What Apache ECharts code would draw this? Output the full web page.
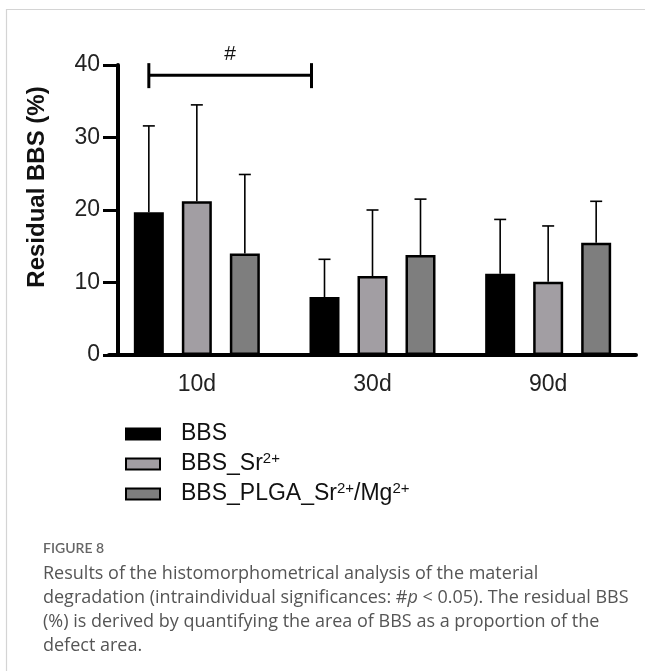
<!DOCTYPE html>
<html>
<head>
<meta charset="utf-8">
<script src="https://cdn.jsdelivr.net/npm/echarts@6/dist/echarts.min.js"></script>
<style>
  html, body { margin: 0; padding: 0; background: #fff; }
  #chart { width: 645px; height: 671px; }
</style>
</head>
<body>
<div id="chart"></div>
<script>
// data
var days = ['10d', '30d', '90d'];
var groupNames = ['BBS', 'BBS_Sr2+', 'BBS_PLGA_Sr2+/Mg2+'];
var bbsMean = [19.7, 8.0, 11.2];
var srMean = [21.2, 10.9, 10.1];
var plgaMean = [14.0, 13.8, 15.5];
var bbsUpper = [31.6, 13.2, 18.7];
var srUpper = [34.5, 20.0, 17.8];
var plgaUpper = [24.9, 21.5, 21.2];
var yTicks = [0, 10, 20, 30, 40];
var sigLevel = 38.6;

var fillColors = ['#000000', '#a29ea3', '#7e7e7e'];
var barW = 30, pitch = 48;
var fontAxis = '"Liberation Sans", Arial, sans-serif';

var means = [bbsMean, srMean, plgaMean];
var uppers = [bbsUpper, srUpper, plgaUpper];

var errData = [];
for (var s = 0; s < 3; s++) {
    for (var i = 0; i < days.length; i++) {
        errData.push([i, means[s][i], uppers[s][i], s]);
    }
}

var series = [];
for (var k = 0; k < 3; k++) {
    series.push({
        name: groupNames[k],
        type: 'bar',
        barWidth: barW,
        barGap: ((pitch - barW) / barW * 100) + '%',
        data: means[k],
        itemStyle: { color: fillColors[k], borderColor: '#000', borderWidth: 2.5 }
    });
}

// error bars (upper only)
series.push({
    type: 'custom',
    data: errData,
    encode: { x: 0, y: 2 },
    z: 5,
    renderItem: function (params, api) {
        var pm = api.coord([api.value(0), api.value(1)]);
        var pu = api.coord([api.value(0), api.value(2)]);
        var x = pm[0] + (api.value(3) - 1) * pitch;
        var st = { stroke: '#000', lineWidth: 1.6 };
        return {
            type: 'group',
            children: [
                { type: 'line', shape: { x1: x, y1: pm[1], x2: x, y2: pu[1] }, style: st },
                { type: 'line', shape: { x1: x - 6, y1: pu[1], x2: x + 6, y2: pu[1] }, style: st }
            ]
        };
    }
});

// significance bracket 10d vs 30d
series.push({
    type: 'custom',
    data: [[0, sigLevel]],
    z: 5,
    renderItem: function (params, api) {
        var a = api.coord([0, api.value(1)]);
        var b = api.coord([1, api.value(1)]);
        var x1 = a[0] - pitch, x2 = b[0] - 61, y = a[1];
        var st = { stroke: '#000', lineWidth: 3 };
        return {
            type: 'group',
            children: [
                { type: 'line', shape: { x1: x1, y1: y, x2: x2, y2: y }, style: st },
                { type: 'line', shape: { x1: x1, y1: y - 12, x2: x1, y2: y + 13 }, style: st },
                { type: 'line', shape: { x1: x2, y1: y - 12, x2: x2, y2: y + 13 }, style: st },
                { type: 'text', style: { text: '#', x: (x1 + x2) / 2, y: y - 10, align: 'center', verticalAlign: 'bottom', fontSize: 21, fontFamily: fontAxis, fill: '#111' } }
            ]
        };
    }
});

var legendRich = {
    sup: { fontSize: 15, fontFamily: fontAxis, color: '#111', verticalAlign: 'top', padding: [0, 0, 16, 0] }
};

var chart = echarts.init(document.getElementById('chart'));
chart.setOption({
    animation: false,
    backgroundColor: '#fff',
    grid: { left: 109, right: 9, top: 65, bottom: 316 },
    xAxis: {
        type: 'category',
        data: days,
        axisLine: { lineStyle: { color: '#000', width: 4 } },
        axisTick: { alignWithLabel: true, length: 13, lineStyle: { color: '#000', width: 4 } },
        axisLabel: { fontSize: 23, fontFamily: fontAxis, color: '#222', margin: 18 }
    },
    yAxis: {
        type: 'value',
        min: yTicks[0],
        max: yTicks[yTicks.length - 1],
        interval: yTicks[1] - yTicks[0],
        offset: -9,
        splitLine: { show: false },
        axisLine: { show: true, lineStyle: { color: '#000', width: 4 } },
        axisTick: { show: true, length: 15, lineStyle: { color: '#000', width: 3 } },
        axisLabel: { fontSize: 23, fontFamily: fontAxis, color: '#222', margin: 18 }
    },
    legend: {
        data: groupNames,
        orient: 'vertical',
        left: 120,
        top: 416,
        icon: 'rect',
        itemWidth: 34,
        itemHeight: 11,
        itemGap: 4,
        selectedMode: false,
        textStyle: { fontSize: 23, fontFamily: fontAxis, color: '#111', lineHeight: 26, padding: [0, 0, 0, 16], rich: legendRich },
        formatter: function (name) {
            if (name === 'BBS_Sr2+') return 'BBS_Sr{sup|2+}';
            if (name === 'BBS_PLGA_Sr2+/Mg2+') return 'BBS_PLGA_Sr{sup|2+}/Mg{sup|2+}';
            return name;
        }
    },
    title: [
        { text: 'FIGURE 8', left: 38, top: 536, textStyle: { fontSize: 14, fontWeight: 600, fontFamily: 'Lato, sans-serif', color: '#666' } },
        {
            text: 'Results of the histomorphometrical analysis of the material\n' +
                'degradation (intraindividual significances: #{i|p} < 0.05). The residual BBS\n' +
                '(%) is derived by quantifying the area of BBS as a proportion of the\n' +
                'defect area.',
            left: 38, top: 557,
            textStyle: {
                fontSize: 18, fontWeight: 'normal', fontFamily: '"Open Sans", sans-serif', color: '#555', lineHeight: 24,
                rich: { i: { fontSize: 18, fontStyle: 'italic', fontFamily: '"Open Sans", sans-serif', color: '#555', lineHeight: 24 } }
            }
        }
    ],
    graphic: [
        { type: 'line', shape: { x1: 6.5, y1: 9, x2: 6.5, y2: 671 }, style: { stroke: '#d4d4d4', lineWidth: 1.2 } },
        { type: 'line', shape: { x1: 6, y1: 9.5, x2: 645, y2: 9.5 }, style: { stroke: '#d4d4d4', lineWidth: 1.2 } },
        { type: 'text', x: 37, y: 187, rotation: Math.PI / 2, style: { text: 'Residual BBS (%)', align: 'center', verticalAlign: 'middle', fontSize: 24, fontWeight: 'bold', fontFamily: fontAxis, fill: '#111' } }
    ],
    series: series
});
</script>
</body>
</html>
